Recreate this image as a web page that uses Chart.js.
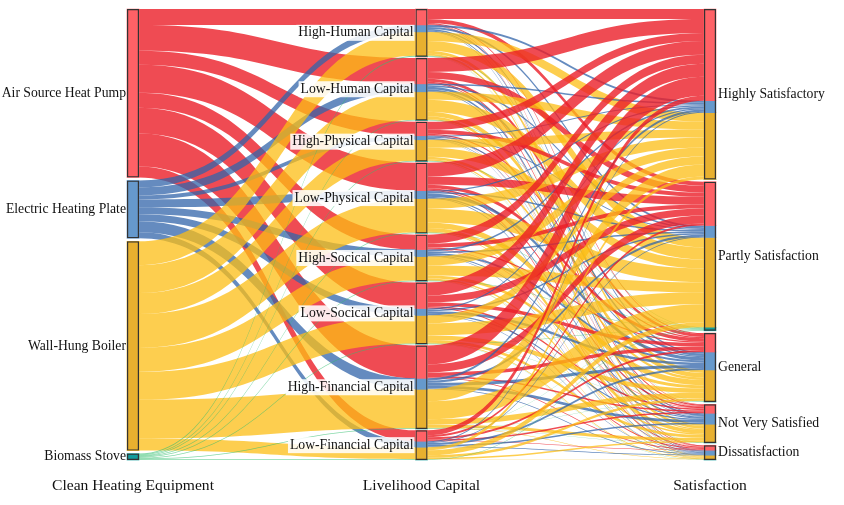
<!DOCTYPE html>
<html><head><meta charset="utf-8">
<script src="https://cdn.jsdelivr.net/npm/chart.js@4.4.1/dist/chart.umd.min.js"></script>
<style>html,body{margin:0;padding:0;background:#fff;}#wrap{width:844px;height:505px;position:relative;}</style>
</head><body><div id="wrap"><canvas id="c" width="844" height="505"></canvas></div>
<script>
// ---------- DATA ----------
const equipment = ['Air Source Heat Pump', 'Electric Heating Plate', 'Wall-Hung Boiler', 'Biomass Stove'];
const capitals = ['High-Human Capital', 'Low-Human Capital', 'High-Physical Capital', 'Low-Physical Capital',
  'High-Socical Capital', 'Low-Socical Capital', 'High-Financial Capital', 'Low-Financial Capital'];
const satisfaction = ['Highly Satisfactory', 'Partly Satisfaction', 'General', 'Not Very Satisfied', 'Dissatisfaction'];
const columnTitles = ['Clean Heating Equipment', 'Livelihood Capital', 'Satisfaction'];

// rows = livelihood capital nodes (in order above), columns = satisfaction levels (in order above)
const airSourceHeatPump = [
  [10, 4, 1, 0.6, 0.4],
  [14, 7, 3, 1.2, 0.8],
  [8, 4, 1.2, 0.5, 0.3],
  [14, 8, 3.5, 1.5, 1],
  [9, 4, 1.2, 0.5, 0.3],
  [13, 7, 3.5, 1.6, 0.9],
  [19, 8, 3.5, 1.6, 0.9],
  [5, 2, 2.1, 1.5, 0.4]
];
const electricHeatingPlate = [
  [2, 2, 1.5, 1, 0.5],
  [1.5, 1.5, 2.5, 1.7, 0.8],
  [1, 1, 1.2, 0.5, 0.3],
  [1.2, 1.5, 3.3, 1.3, 0.7],
  [2, 1.5, 2, 1, 0.5],
  [1.2, 1.5, 2.5, 1.2, 0.6],
  [2.3, 2.2, 3, 2.7, 0.8],
  [0.8, 0.8, 2, 1.6, 0.8]
];
const wallHungBoiler = [
  [9, 10, 3, 1.6, 0.4],
  [8, 12, 4.5, 2.8, 0.7],
  [8, 9, 2.5, 1.2, 0.3],
  [10, 14, 5.5, 3.6, 0.9],
  [9, 10, 3, 1.6, 0.4],
  [8, 12, 4.5, 2.8, 0.7],
  [12, 18, 5.5, 3, 0.5],
  [3, 5, 2.5, 1.4, 0.1]
];
const biomassStove = [
  [0, 0.45, 0.15, 0.1, 0.1],
  [0, 0.45, 0.15, 0.1, 0.1],
  [0, 0.45, 0.15, 0.1, 0.1],
  [0, 0.45, 0.15, 0.1, 0.1],
  [0, 0.45, 0.15, 0.1, 0.1],
  [0, 0.45, 0.15, 0.1, 0.1],
  [0, 0.45, 0.15, 0.1, 0.1],
  [0, 0.45, 0.15, 0.1, 0.1]
];
const flowsByEquipment = [airSourceHeatPump, electricHeatingPlate, wallHungBoiler, biomassStove];

// ---------- STYLE ----------
const nodeColors = ['#ff6166', '#6699cc', '#e8b02f', '#129c9c'];
const linkColors = ['rgba(235,30,40,0.8)', 'rgba(50,100,170,0.75)', 'rgba(252,190,20,0.75)', 'rgba(50,190,110,0.6)'];
const FONT = "'Liberation Serif','Times New Roman',serif";

// ---------- LAYOUT (in data units) ----------
const sum = a => a.reduce((p, q) => p + q, 0);
const nE = equipment.length, nC = capitals.length, nS = satisfaction.length;
const eqTotal = flowsByEquipment.map(m => sum(m.map(sum)));
const capSeg = capitals.map((_, c) => flowsByEquipment.map(m => sum(m[c])));
const satSeg = satisfaction.map((_, s) => flowsByEquipment.map(m => sum(m.map(r => r[s]))));
const T = sum(eqTotal);
const PAD_MID = 1.3;
const YMAX = T + (nC - 1) * PAD_MID;

function stack(totals) {
  const pad = (YMAX - sum(totals)) / (totals.length - 1);
  const starts = []; let y = 0;
  totals.forEach(t => { starts.push(y); y += t + pad; });
  return starts;
}
const leftStart = stack(eqTotal);
const midStart = stack(capSeg.map(sum));
const rightStart = stack(satSeg.map(sum));

const midSub = capSeg.map((segs, c) => { let y = midStart[c]; return segs.map(v => { const s = y; y += v; return s; }); });
const rightSub = satSeg.map((segs, s) => { let y = rightStart[s]; return segs.map(v => { const st = y; y += v; return st; }); });

// links
const links = [];
leftStart.forEach((y0, e) => {
  let off = y0;
  for (let c = 0; c < nC; c++) {
    const v = capSeg[c][e];
    if (v > 0) links.push({ from: 0, to: 1, s0: off, t0: midSub[c][e], v, e });
    off += v;
  }
});
const rightOff = rightSub.map(r => r.slice());
for (let c = 0; c < nC; c++) {
  for (let e = 0; e < nE; e++) {
    let off = midSub[c][e];
    for (let s = 0; s < nS; s++) {
      const v = flowsByEquipment[e][c][s];
      if (v > 0) { links.push({ from: 1, to: 2, s0: off, t0: rightOff[s][e], v, e }); rightOff[s][e] += v; }
      off += v;
    }
  }
}

// ---------- DATASETS (nodes as floating bars) ----------
const segDatasets = equipment.map((name, e) => {
  const pts = [{ x: 0, y: [leftStart[e], leftStart[e] + eqTotal[e]] }];
  for (let c = 0; c < nC; c++) pts.push({ x: 1, y: [midSub[c][e], midSub[c][e] + capSeg[c][e]] });
  for (let s = 0; s < nS; s++) pts.push({ x: 2, y: [rightSub[s][e], rightSub[s][e] + satSeg[s][e]] });
  return { label: name, data: pts, backgroundColor: nodeColors[e], borderWidth: 0, barThickness: 12, grouped: false, clip: false };
});
const outlinePts = [];
equipment.forEach((_, e) => outlinePts.push({ x: 0, y: [leftStart[e], leftStart[e] + eqTotal[e]] }));
capitals.forEach((_, c) => outlinePts.push({ x: 1, y: [midStart[c], midStart[c] + sum(capSeg[c])] }));
satisfaction.forEach((_, s) => outlinePts.push({ x: 2, y: [rightStart[s], rightStart[s] + sum(satSeg[s])] }));
const outlineDataset = { label: 'outline', data: outlinePts, backgroundColor: 'rgba(0,0,0,0)', borderColor: '#333',
  borderWidth: 1.2, borderSkipped: false, barThickness: 12, grouped: false, clip: false, inflateAmount: 0 };

// ---------- PLUGINS ----------
const linkPlugin = {
  id: 'links',
  beforeDatasetsDraw(chart) {
    const { ctx, scales: { x, y } } = chart;
    const half = 6;
    ctx.save();
    links.forEach(l => {
      const x0 = x.getPixelForValue(l.from) + half, x1 = x.getPixelForValue(l.to) - half;
      const a0 = y.getPixelForValue(l.s0), b0 = y.getPixelForValue(l.s0 + l.v);
      const a1 = y.getPixelForValue(l.t0), b1 = y.getPixelForValue(l.t0 + l.v);
      const xm = (x0 + x1) / 2;
      ctx.beginPath();
      ctx.moveTo(x0, a0);
      ctx.bezierCurveTo(xm, a0, xm, a1, x1, a1);
      ctx.lineTo(x1, b1);
      ctx.bezierCurveTo(xm, b1, xm, b0, x0, b0);
      ctx.closePath();
      ctx.fillStyle = linkColors[l.e];
      ctx.fill();
    });
    ctx.restore();
  }
};
const labelPlugin = {
  id: 'labels',
  afterDatasetsDraw(chart) {
    const { ctx, scales: { x, y } } = chart;
    ctx.save();
    ctx.font = '13.7px ' + FONT;
    ctx.fillStyle = '#111';
    ctx.textBaseline = 'middle';
    ctx.textAlign = 'right';
    equipment.forEach((name, e) => {
      const yc = y.getPixelForValue(leftStart[e] + eqTotal[e] / 2);
      ctx.fillText(name, x.getPixelForValue(0) - 7, yc);
    });
    capitals.forEach((name, c) => {
      const yc = y.getPixelForValue(midStart[c] + sum(capSeg[c]) / 2);
      const xr = x.getPixelForValue(1) - 8;
      const w = ctx.measureText(name).width;
      ctx.fillStyle = 'rgba(255,255,255,0.88)';
      ctx.fillRect(xr - w - 2, yc - 8, w + 3, 16);
      ctx.fillStyle = '#111';
      ctx.fillText(name, xr, yc);
    });
    ctx.textAlign = 'left';
    satisfaction.forEach((name, s) => {
      const yc = y.getPixelForValue(rightStart[s] + sum(satSeg[s]) / 2);
      ctx.fillText(name, x.getPixelForValue(2) + 8, yc);
    });
    ctx.font = '15.6px ' + FONT;
    ctx.textAlign = 'center';
    columnTitles.forEach((t, i) => {
      ctx.fillText(t, x.getPixelForValue(i), 486);
    });
    ctx.restore();
  }
};

new Chart(document.getElementById('c'), {
  type: 'bar',
  data: { datasets: [outlineDataset, ...segDatasets] },
  options: {
    responsive: false,
    animation: false,
    layout: { padding: { left: 133, right: 134, top: 9, bottom: 45 } },
    plugins: { legend: { display: false }, tooltip: { enabled: false } },
    scales: {
      x: { type: 'linear', min: 0, max: 2, offset: false, display: false },
      y: { type: 'linear', min: 0, max: YMAX, reverse: true, display: false }
    }
  },
  plugins: [linkPlugin, labelPlugin]
});
</script>
</body></html>
